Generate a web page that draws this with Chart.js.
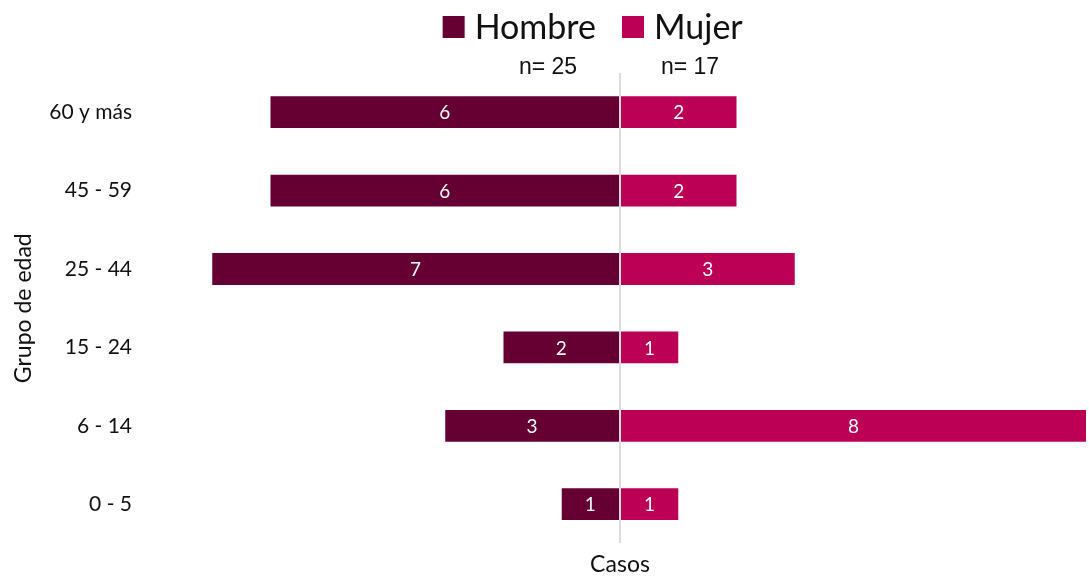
<!DOCTYPE html>
<html>
<head>
<meta charset="utf-8">
<script src="https://cdn.jsdelivr.net/npm/chart.js@4"></script>
<style>
  html, body { margin: 0; padding: 0; background: #fff; }
  #wrap { width: 1089px; height: 578px; }
</style>
</head>
<body>
<div id="wrap"><canvas id="pyramid"></canvas></div>
<script>
// age pyramid data
const ageGroups = ['60 y más', '45 - 59', '25 - 44', '15 - 24', '6 - 14', '0 - 5'];
const hombres = [6, 6, 7, 2, 3, 1];
const mujeres = [2, 2, 3, 1, 8, 1];
const sexLabels = ['Hombre', 'Mujer'];
const sampleSizes = [25, 17];
const xRange = [-8, 8];

const colHombre = '#660033';
const colMujer = '#BB0055';
const textColor = '#111111';
const fontFamily = 'Lato, "Open Sans", sans-serif';

// white numbers inside the bars
const barValues = {
  id: 'barValues',
  afterDatasetsDraw(chart) {
    const ctx = chart.ctx;
    ctx.save();
    ctx.fillStyle = '#ffffff';
    ctx.font = '19px ' + fontFamily;
    ctx.textAlign = 'center';
    ctx.textBaseline = 'middle';
    chart.data.datasets.forEach((ds, i) => {
      chart.getDatasetMeta(i).data.forEach((bar, j) => {
        const p = bar.getProps(['x', 'y', 'base'], true);
        ctx.fillText(Math.abs(ds.data[j]), (p.x + p.base) / 2, p.y + 1);
      });
    });
    ctx.restore();
  }
};

// legend + sample size around the zero line
const sideLegend = {
  id: 'sideLegend',
  afterDraw(chart) {
    const ctx = chart.ctx;
    const zeroX = chart.scales.x.getPixelForValue(0);
    const box = 22;
    ctx.save();
    ctx.textBaseline = 'middle';
    ctx.font = '34px ' + fontFamily;
    ctx.fillStyle = textColor;

    // Hombre: ends left of the axis
    const wH = ctx.measureText(sexLabels[0]).width;
    const hTextX = zeroX - 24 - wH;
    ctx.fillStyle = colHombre;
    ctx.fillRect(hTextX - 10 - box, 16, box, box);
    ctx.fillStyle = textColor;
    ctx.textAlign = 'left';
    ctx.fillText(sexLabels[0], hTextX, 28);

    // Mujer: starts right of the axis
    ctx.fillStyle = colMujer;
    ctx.fillRect(zeroX + 2, 16, box, box);
    ctx.fillStyle = textColor;
    ctx.fillText(sexLabels[1], zeroX + 2 + box + 10, 28);

    ctx.font = '23px "Liberation Sans", Arial, sans-serif';
    ctx.textAlign = 'center';
    ctx.fillText('n= ' + sampleSizes[0], zeroX - 72, 68);
    ctx.fillText('n= ' + sampleSizes[1], zeroX + 70, 68);
    ctx.restore();
  }
};

new Chart(document.getElementById('pyramid'), {
  type: 'bar',
  data: {
    labels: ageGroups,
    datasets: [
      {
        label: sexLabels[0],
        data: hombres.map(v => -v),
        backgroundColor: colHombre,
        barPercentage: 1,
        categoryPercentage: 0.405
      },
      {
        label: sexLabels[1],
        data: mujeres,
        backgroundColor: colMujer,
        barPercentage: 1,
        categoryPercentage: 0.405
      }
    ]
  },
  options: {
    indexAxis: 'y',
    responsive: true,
    maintainAspectRatio: false,
    animation: false,
    layout: { padding: { top: 73, right: 3, left: 0, bottom: 0 } },
    scales: {
      x: {
        stacked: true,
        min: xRange[0],
        max: xRange[1],
        ticks: { display: false },
        border: { display: false },
        grid: {
          drawTicks: false,
          lineWidth: 2,
          color: c => (c.tick && c.tick.value === 0 ? '#dcdcdc' : 'rgba(0,0,0,0)')
        },
        title: {
          display: true,
          text: 'Casos',
          color: textColor,
          font: { family: fontFamily, size: 23, lineHeight: 0.9 },
          padding: { top: 4, bottom: 0 }
        },
        afterFit: s => { s.height = 32; }
      },
      y: {
        stacked: true,
        border: { display: false },
        grid: { display: false, drawTicks: false },
        ticks: {
          color: textColor,
          font: { family: fontFamily, size: 21 },
          padding: 22
        },
        title: {
          display: true,
          text: 'Grupo de edad',
          color: textColor,
          font: { family: fontFamily, size: 23 },
          padding: { top: 10, bottom: 0 }
        },
        afterFit: s => { s.width = 154; }
      }
    },
    plugins: {
      legend: { display: false },
      tooltip: { enabled: false }
    }
  },
  plugins: [barValues, sideLegend]
});
</script>
</body>
</html>
